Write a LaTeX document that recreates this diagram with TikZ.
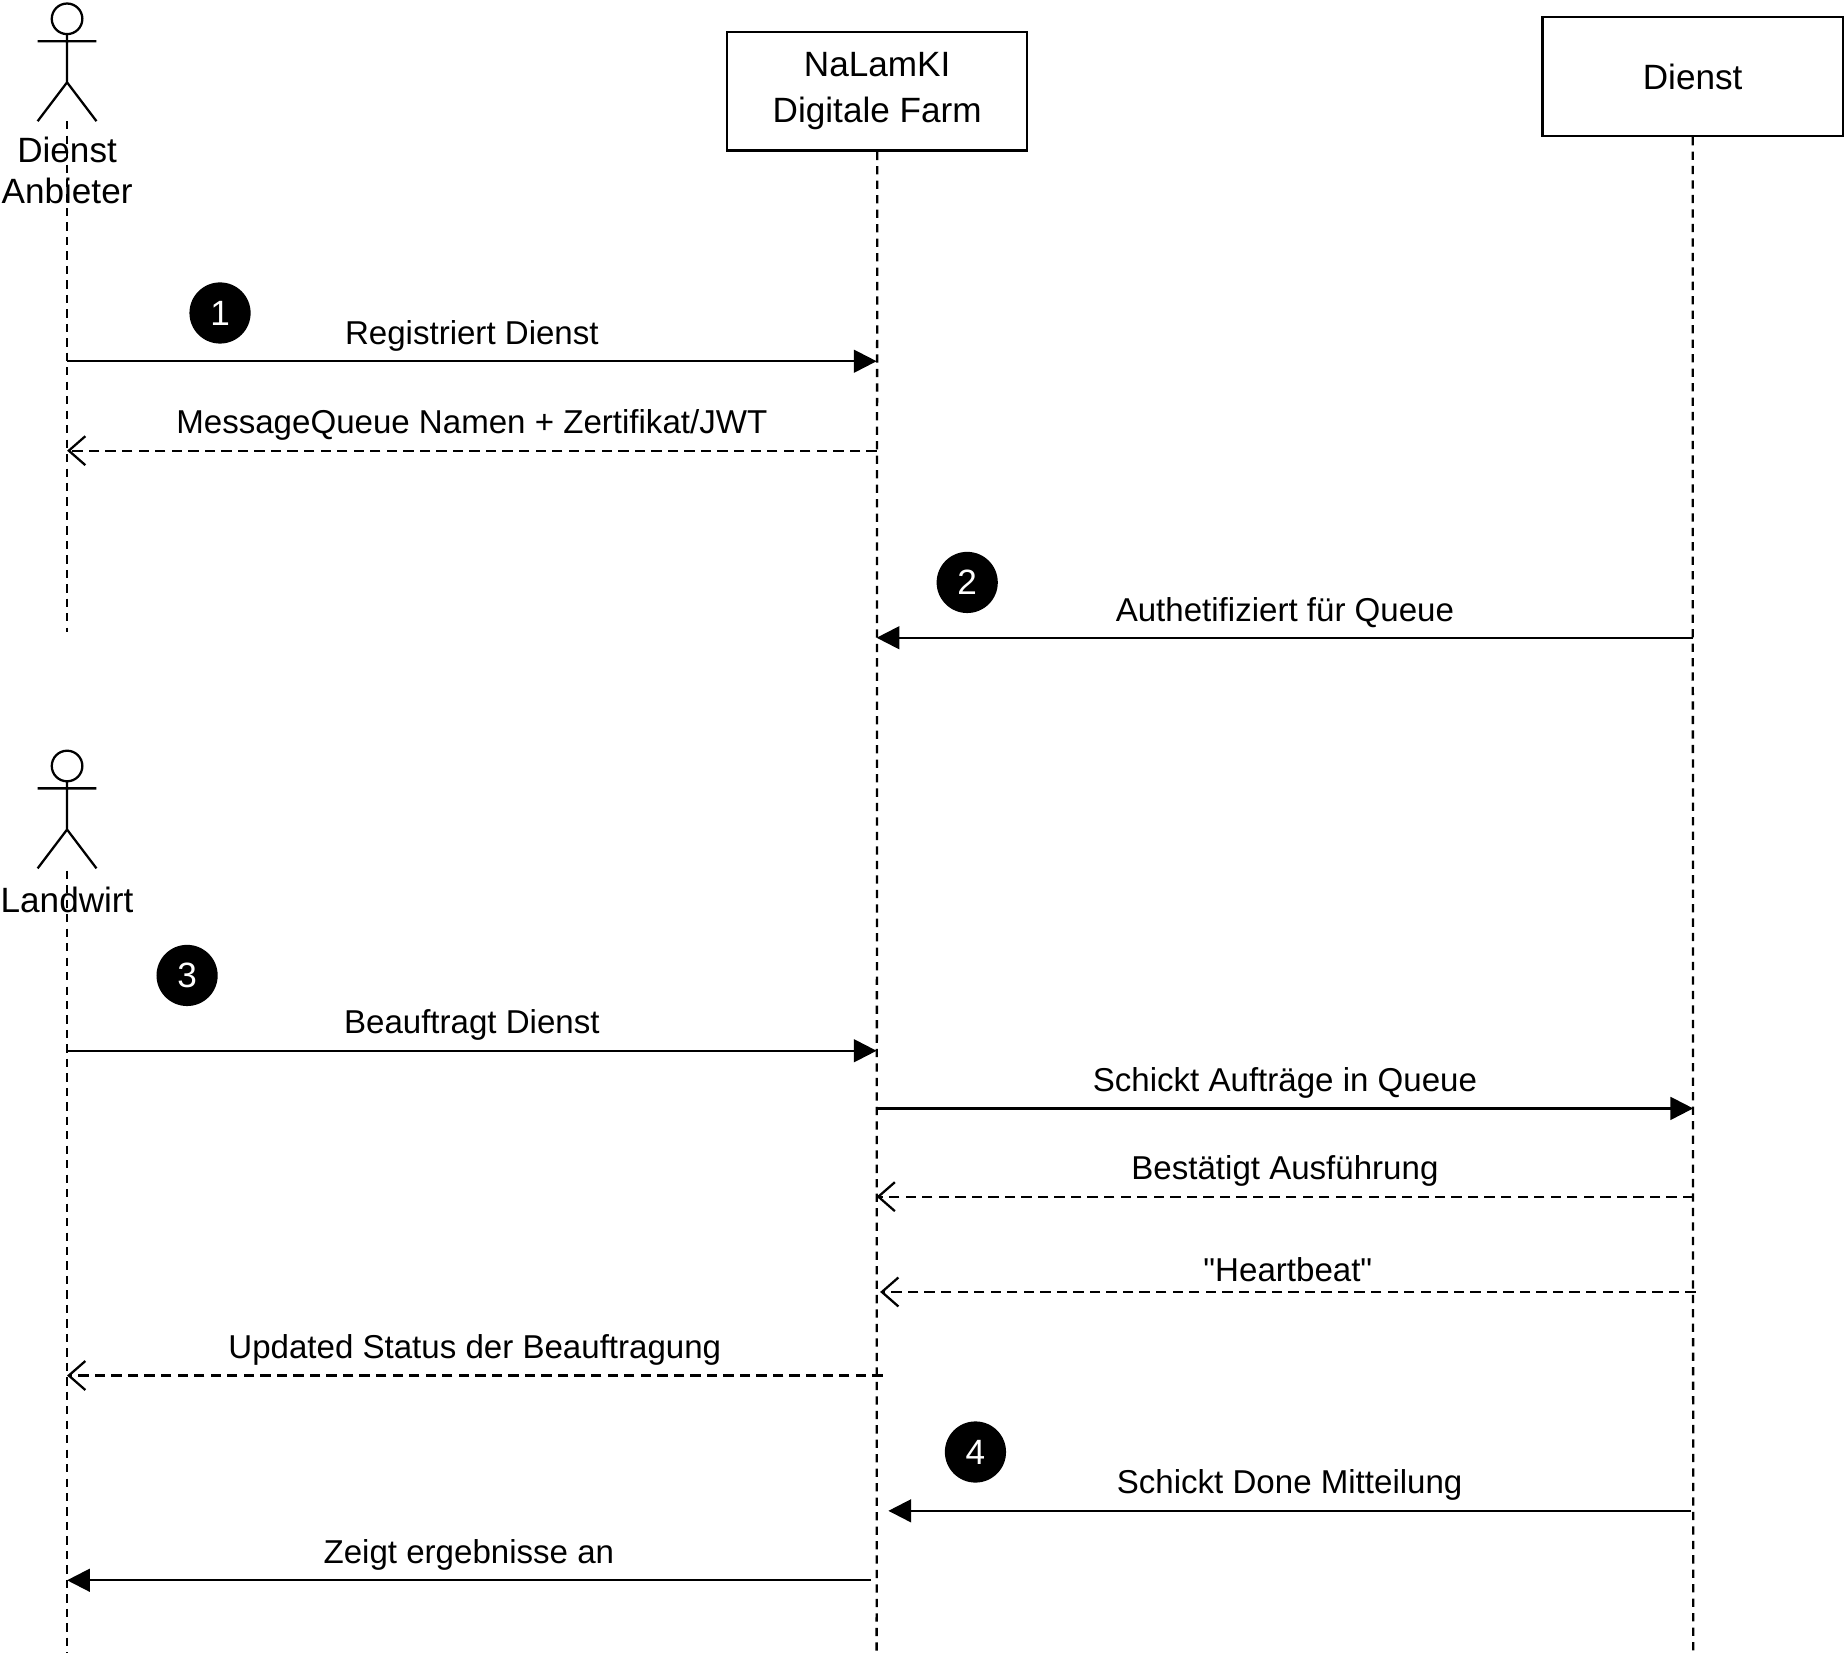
\documentclass[tikz,border=0pt]{standalone}
\usepackage{fontspec}
\setmainfont{Liberation Sans}[Ligatures=TeXOff]
\usetikzlibrary{arrows.meta}
\begin{document}
\begin{tikzpicture}[x=0.02cm,y=-0.02cm,line width=1.1pt,
  life/.style={dash pattern=on 4pt off 3pt},
  box/.style={draw,minimum width=255*0.02cm,minimum height=101*0.02cm,align=center,font=\fontsize{17}{22}\selectfont},
  lbl/.style={font=\fontsize{16}{19}\selectfont,align=center},
  badge/.style={circle,fill=black,text=white,minimum size=52*0.02cm,inner sep=0,font=\fontsize{17}{18}\selectfont},
  sync/.style={-{Triangle[length=11pt,width=11pt]}},
  ret/.style={dash pattern=on 5pt off 3pt,-{Straight Barb[length=8pt,width=14pt]}}]
\useasboundingbox (0,0) rectangle (1568,1405);
% actors
\foreach \n/\y in {a/0,b/635}{
  \draw (57,16+\y) circle (13);
  \draw (57,29+\y) -- (57,70+\y) (32,35+\y) -- (82,35+\y) (32,103+\y) -- (57,70+\y) -- (82,103+\y);
}
\coordinate (aTop) at (57,103); \coordinate (aBot) at (57,537);
\coordinate (bTop) at (57,740); \coordinate (bBot) at (57,1405);
\node[lbl,font=\fontsize{17}{20}\selectfont] (al) at (57,145) {Dienst\\Anbieter};
\node[lbl,font=\fontsize{17}{20}\selectfont] (bl) at (57,765) {Landwirt};
\node[box] (N) at (745.5,77.5) {NaLamKI\\Digitale Farm};
\node[box] (D) at (1438.5,65) {Dienst};
\coordinate (nBot) at (745,1405); \coordinate (dBot) at (1439,1405);
\draw[life] (aTop) -- (aBot);
\draw[life] (bTop) -- (bBot);
\draw[life] (N.south) -- (nBot);
\draw[life] (D.south) -- (dBot);
% badges
\node[badge] (b1) at (187,266) {1};
\node[badge] (b2) at (822,495) {2};
\node[badge] (b3) at (159,829) {3};
\node[badge] (b4) at (829,1234) {4};
% messages
\foreach \i/\xa/\xb/\y in {1/57/745/307,2/745/57/383,3/1439/745/542,4/57/745/893,5/745/1439/942,6/1439/745/1017,7/1441/748/1098,8/750/57/1169,9/1437/755/1284,10/740/57/1343}{
  \coordinate (s\i) at (\xa,\y); \coordinate (e\i) at (\xb,\y);
}
\draw[sync] (s1) -- (e1) node[lbl,midway,above=1pt] {Registriert Dienst};
\draw[ret] (s2) -- (e2) node[lbl,midway,above=1pt] {MessageQueue Namen + Zertifikat/JWT};
\draw[sync] (s3) -- (e3) node[lbl,midway,above=1pt] {Authetifiziert für Queue};
\draw[sync] (s4) -- (e4) node[lbl,midway,above=1pt] {Beauftragt Dienst};
\draw[sync] (s5) -- (e5) node[lbl,midway,above=1pt] {Schickt Aufträge in Queue};
\draw[ret] (s6) -- (e6) node[lbl,midway,above=1pt] {Bestätigt Ausführung};
\draw[ret] (s7) -- (e7) node[lbl,midway,above=1pt] {"Heartbeat"};
\draw[ret] (s8) -- (e8) node[lbl,midway,above=1pt] {Updated Status der Beauftragung};
\draw[sync] (s9) -- (e9) node[lbl,midway,above=1pt] {Schickt Done Mitteilung};
\draw[sync] (s10) -- (e10) node[lbl,midway,above=1pt] {Zeigt ergebnisse an};
\end{tikzpicture}
\end{document}
